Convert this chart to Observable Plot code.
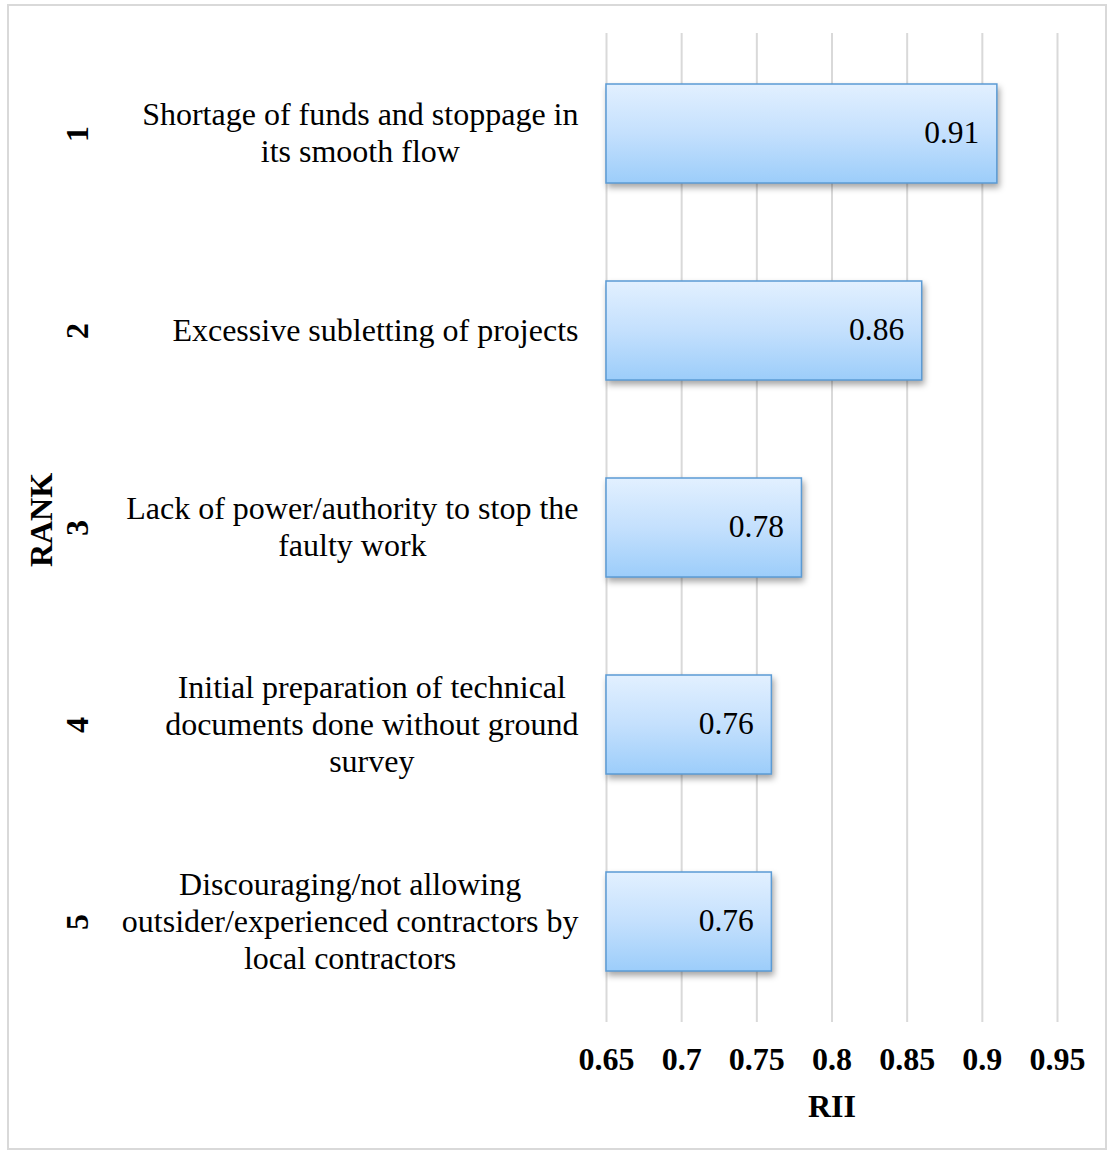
<!DOCTYPE html>
<html>
<head>
<meta charset="utf-8">
<script src="https://cdn.jsdelivr.net/npm/d3@7"></script>
<script src="https://cdn.jsdelivr.net/npm/@observablehq/plot@0.6"></script>
<style>
  html, body { margin: 0; padding: 0; background: #fff; }
  #wrap { position: relative; width: 1107px; height: 1150px; }
  #border { position: absolute; left: 7px; top: 4px; width: 1096px; height: 1142px; border: 2px solid #d9d9d9; pointer-events: none; }
  svg { font-family: "Liberation Serif", "Times New Roman", serif; }
</style>
</head>
<body>
<div id="wrap"><div id="border"></div></div>
<script>
const ranks = ["1", "2", "3", "4", "5"];
const factors = [
  "Shortage of funds and stoppage in\nits smooth flow",
  "Excessive subletting of projects",
  "Lack of power/authority to stop the\nfaulty work",
  "Initial preparation of technical\ndocuments done without ground\nsurvey",
  "Discouraging/not allowing\noutsider/experienced contractors by\nlocal contractors"
];
const rii = [0.91, 0.86, 0.78, 0.76, 0.76];
const xTicks = [0.65, 0.7, 0.75, 0.8, 0.85, 0.9, 0.95];
const xMin = 0.65, xMax = 0.95;

const data = ranks.map((r, i) => ({rank: r, factor: factors[i], rii: rii[i]}));

const chart = Plot.plot({
  width: 1107,
  height: 1150,
  marginLeft: 606,
  marginRight: 50,
  marginTop: 33,
  marginBottom: 128,
  style: {fontFamily: '"Liberation Serif", "Times New Roman", serif', background: "transparent"},
  x: {domain: [xMin, xMax]},
  y: {domain: ranks, paddingInner: 0.5, paddingOuter: 0.25},
  marks: [
    Plot.gridX(xTicks, {stroke: "#d9d9d9", strokeOpacity: 1, strokeWidth: 2}),
    Plot.barX(data, {y: "rank", x1: xMin, x2: "rii", fill: "url(#barGrad)", stroke: "#5b9bd5", strokeWidth: 1.5, className: "bars"}),
    Plot.text(data, {y: "rank", x: "rii", text: d => String(d.rii), textAnchor: "end", dx: -18, dy: -1, fontSize: 31.5, fill: "#000"}),
    Plot.text(data, {y: "rank", x: xMin, text: "factor", textAnchor: "end", lineAnchor: "middle", lineHeight: 1.16, dx: -28, dy: -2, fontSize: 32, fill: "#000", className: "cat-labels"}),
    Plot.text(data, {y: "rank", x: xMin, text: "rank", rotate: -90, dx: -529, fontSize: 32, fontWeight: "bold", fill: "#000"}),
    Plot.axisX(xTicks, {tickSize: 0, tickPadding: 25, fontSize: 32, fontWeight: "bold", tickFormat: d => String(d), label: null, fill: "#000"}),
    Plot.text(["RII"], {frameAnchor: "bottom", dy: 94, fontSize: 32, fontWeight: "bold", fill: "#000"}),
    Plot.text(["RANK"], {frameAnchor: "left", textAnchor: "middle", dx: -565, dy: -8, rotate: -90, fontSize: 32, fontWeight: "bold", fill: "#000"}),
    Plot.axisY({ticks: [], label: null})
  ]
});

document.getElementById("wrap").prepend(chart);

const svg = d3.select(chart);
const defs = svg.insert("defs", ":first-child");
const grad = defs.append("linearGradient").attr("id", "barGrad").attr("x1", 0).attr("y1", 0).attr("x2", 0).attr("y2", 1);
grad.append("stop").attr("offset", "0%").attr("stop-color", "#e2f0ff");
grad.append("stop").attr("offset", "50%").attr("stop-color", "#c4e0fd");
grad.append("stop").attr("offset", "100%").attr("stop-color", "#9ccdfa");
svg.selectAll(".bars rect").style("filter", "drop-shadow(2px 4px 3px rgba(0,0,0,0.35))");

svg.selectAll(".cat-labels text").each(function() {
  const w = this.getBBox().width;
  this.setAttribute("text-anchor", "middle");
  const t = this.getAttribute("transform") || "";
  this.setAttribute("transform", t + ` translate(${-w / 2},0)`);
});
</script>
</body>
</html>
